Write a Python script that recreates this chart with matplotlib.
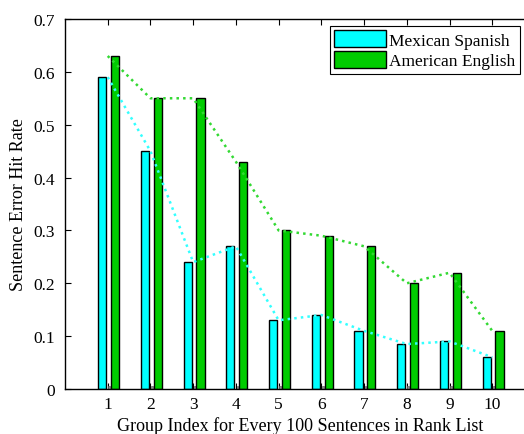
import numpy as np
import matplotlib.pyplot as plt
from matplotlib.patches import Patch

plt.rcParams['font.family'] = ['Liberation Serif', 'DejaVu Serif']

groups = [1, 2, 3, 4, 5, 6, 7, 8, 9, 10]
spanish = [0.59, 0.45, 0.24, 0.27, 0.13, 0.14, 0.11, 0.085, 0.09, 0.06]
english = [0.63, 0.55, 0.55, 0.43, 0.30, 0.29, 0.27, 0.20, 0.22, 0.11]
stub = [0.006] * 10
series_names = ['Mexican Spanish', 'American English']

cyan = (0.0, 1.0, 1.0)
green = (0.0, 0.8, 0.0)

fig = plt.figure(figsize=(5.24, 4.35), dpi=100)
ax = fig.add_axes([65 / 524, 1 - 390 / 435, 470 / 524, 370 / 435])

x = np.array(groups, dtype=float)
w = 0.19
ax.bar(x - 0.13, spanish, w, color=cyan, edgecolor='black', linewidth=1.0, zorder=2)
ax.bar(x + 0.035, stub, 0.04, color='0.55', edgecolor='0.4', linewidth=0.5, zorder=2)
ax.bar(x + 0.17, english, w, color=green, edgecolor='black', linewidth=1.0, zorder=2)

ax.plot(x, spanish, ':', color=(0.2, 1.0, 1.0), lw=1.8, zorder=3)
ax.plot(x, english, ':', color=(0.2, 0.85, 0.2), lw=1.8, zorder=3)

ax.set_xlim(0, 11)
ax.set_ylim(0, 0.7)
ax.set_xticks(groups)
ax.set_yticks(np.arange(0, 0.71, 0.1))
ax.set_yticklabels(['0', '0.1', '0.2', '0.3', '0.4', '0.5', '0.6', '0.7'])
ax.tick_params(direction='in', top=True, right=True, length=4, labelsize=12.5, pad=7)
ax.tick_params(axis='x', pad=5)
for s in ax.spines.values():
    s.set_linewidth(1.0)

ax.set_xlabel('Group Index for Every 100 Sentences in Rank List', fontsize=13, labelpad=3)
ax.set_ylabel('Sentence Error Hit Rate', fontsize=13, labelpad=5)

handles = [Patch(facecolor=cyan, edgecolor='black'),
           Patch(facecolor=green, edgecolor='black')]
leg = fig.legend(handles, series_names, loc='upper right',
                 bbox_to_anchor=(520 / 524, 1 - 27 / 435), fontsize=12.5,
                 fancybox=False, framealpha=1, edgecolor='black',
                 handlelength=3.0, handleheight=1.1, handletextpad=0.2,
                 borderpad=0.25, labelspacing=0.15, borderaxespad=0)
leg.get_frame().set_linewidth(0.8)

fig.savefig('out.png', dpi=100)
